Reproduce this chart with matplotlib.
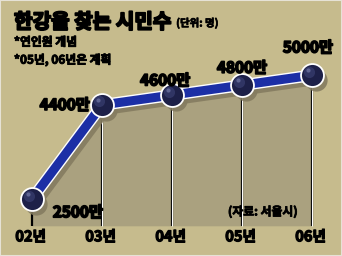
import matplotlib
matplotlib.use("Agg")
import matplotlib.pyplot as plt
import matplotlib.patheffects as pe
import matplotlib.transforms as mtrans
from matplotlib.patches import Rectangle

plt.rcParams['font.family'] = ['Noto Sans CJK KR', 'DejaVu Sans']

years = ['02년', '03년', '04년', '05년', '06년']
values = [2500, 4400, 4600, 4800, 5000]
value_labels = [f"{v}만" for v in values]
title = "한강을 찾는 시민수"
unit = "(단위: 명)"
notes = ["*연인원 개념", "*05년, 06년은 계획"]
source = "(자료: 서울시)"

BG = '#c6bb8d'
FILL = '#aaa17f'
BLUE = '#1c2fa6'
BALL = '#1d2048'
SHADOW = '#857c60'

def heavy(w):
    return [pe.Stroke(linewidth=w, foreground='black'), pe.Normal()]

fig = plt.figure(figsize=(3.42, 2.56), dpi=100)
fig.patch.set_facecolor(BG)
ax = fig.add_axes([0, 0, 1, 1])
ax.set_facecolor(BG)
ax.axis('off')
ax.set_xlim(-0.457, 4.43)
ax.set_ylim(1350, 6520)

x = list(range(len(values)))
base = 1960

# filled area
ax.fill_between(x, values, base, color=FILL, zorder=1, lw=0)

# vertical drop lines
for i, v in enumerate(values):
    ax.plot([i, i], [v, base], color='black', lw=1.6, zorder=2, solid_capstyle='butt')
    if i > 0:
        ax.plot([i, i], [v, base], color='white', lw=0.8, zorder=2.1, solid_capstyle='butt')

# shadow
sh = mtrans.offset_copy(ax.transData, fig=fig, x=4, y=-5, units='dots')
ax.plot(x, values, color=SHADOW, lw=7, transform=sh, zorder=2.5, solid_capstyle='round', alpha=0.9)
ax.plot(x, values, 'o', color=SHADOW, ms=16, mew=0, transform=sh, zorder=2.5, alpha=0.9)

# main line
ax.plot(x, values, color=BLUE, lw=6.5, zorder=3, solid_capstyle='round',
        path_effects=[pe.Stroke(linewidth=8.5, foreground='white'), pe.Normal()])

# balls
ax.plot(x, values, 'o', color=BALL, ms=16.5, mec='white', mew=1.3, zorder=4)
hl = mtrans.offset_copy(ax.transData, fig=fig, x=-3, y=3.5, units='dots')
ax.plot(x, values, 'o', color='#363b6c', ms=8, mew=0, transform=hl, zorder=4.1, alpha=0.8)
hl2 = mtrans.offset_copy(ax.transData, fig=fig, x=-4, y=5, units='dots')
ax.plot(x, values, 'o', color='#6a70a0', ms=3, mew=0, transform=hl2, zorder=4.2, alpha=0.8)

# value labels
offsets = [(15, -9.5, 'left'), (-9, 0, 'right'), (-5, 10.5, 'center'), (0, 12.5, 'center'), (-3, 20, 'center')]
for i, (v, lab) in enumerate(zip(values, value_labels)):
    dx, dy, ha = offsets[i]
    ax.annotate(lab, (i, v), xytext=(dx, dy), textcoords='offset points',
                ha=ha, va='center', fontsize=11, fontweight='bold', color='black', zorder=5,
                path_effects=heavy(1.2))

# x labels
tb = mtrans.blended_transform_factory(ax.transData, ax.transAxes)
for i, y in enumerate(years):
    ax.text(i - 0.02, 0.077, y, transform=tb, ha='center', va='center',
            fontsize=10.5, fontweight='bold', color='black', path_effects=heavy(0.9))

# title and notes
fig.text(0.041, 0.915, title, ha='left', va='center', fontsize=14.5, fontweight='bold',
         path_effects=heavy(1.4))
fig.text(0.515, 0.91, unit, ha='left', va='center', fontsize=7.5, fontweight='bold',
         path_effects=heavy(0.5))
fig.text(0.041, 0.835, notes[0], ha='left', va='center', fontsize=8.5, fontweight='bold',
         path_effects=heavy(0.7))
fig.text(0.041, 0.765, notes[1], ha='left', va='center', fontsize=8.5, fontweight='bold',
         path_effects=heavy(0.7))
fig.text(0.87, 0.172, source, ha='right', va='center', fontsize=8.5, fontweight='bold',
         path_effects=heavy(0.6))

# thin border
fig.patches.append(Rectangle((0, 0), 1, 1, transform=fig.transFigure, fill=False,
                             edgecolor='#e6e2d6', lw=1.5))

fig.savefig('out.png', dpi=100, facecolor=BG)
